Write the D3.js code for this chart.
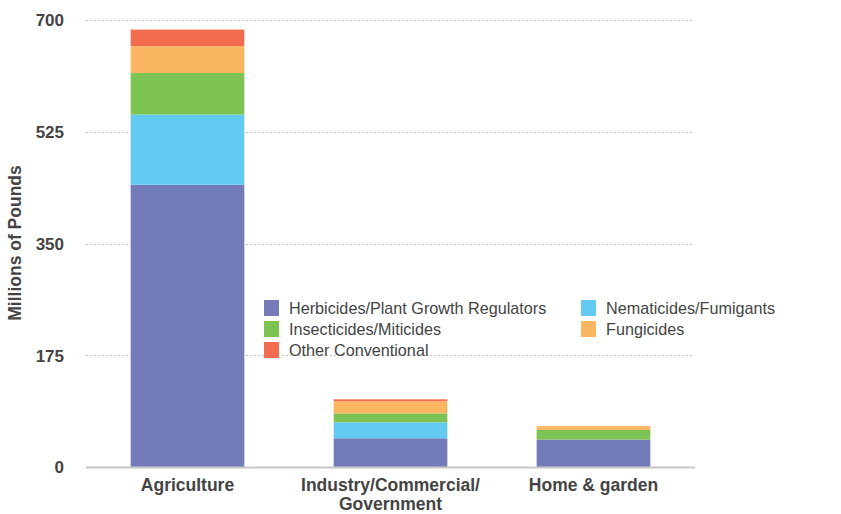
<!DOCTYPE html>
<html>
<head>
<meta charset="utf-8">
<script src="https://cdn.jsdelivr.net/npm/d3@7"></script>
<style>
  body { margin: 0; background: #fff; }
  text { font-family: "Liberation Sans", Arial, sans-serif; }
</style>
</head>
<body>
<svg id="chart" width="841" height="514"></svg>
<script>
// Pesticide use by market sector, millions of pounds
const sectors = ["Agriculture", "Industry/Commercial/Government", "Home & garden"];
const sectorLines = [["Agriculture"], ["Industry/Commercial/", "Government"], ["Home & garden"]];
const seriesNames = ["Herbicides/Plant Growth Regulators", "Nematicides/Fumigants",
                     "Insecticides/Miticides", "Fungicides", "Other Conventional"];
const herbicides   = [442, 45, 43];
const nematicides  = [110, 25, 0];
const insecticides = [65, 14, 15];
const fungicides   = [42, 19, 6];
const other        = [26, 3, 0];
const yTicks = [0, 175, 350, 525, 700];
const colors = ["#737cb9", "#63cbf2", "#7dc353", "#fbb662", "#f26d50"];

const seriesValues = [herbicides, nematicides, insecticides, fungicides, other];
const rows = sectors.map((s, i) => {
  const r = { sector: s };
  seriesNames.forEach((n, k) => r[n] = seriesValues[k][i]);
  return r;
});

const svg = d3.select("#chart");
const plotLeft = 86, plotRight = 692, plotTop = 20, plotBottom = 467;

const x = d3.scaleBand().domain(sectors).range([plotLeft, plotRight + 3]).paddingInner(0.44).paddingOuter(0.22);
const y = d3.scaleLinear().domain([0, 700]).range([plotBottom, plotTop]);
const color = d3.scaleOrdinal().domain(seriesNames).range(colors);

// gridlines
svg.append("g").selectAll("line").data(yTicks.filter(d => d > 0)).join("line")
  .attr("x1", plotLeft).attr("x2", plotRight)
  .attr("y1", d => Math.round(y(d)) + 0.5).attr("y2", d => Math.round(y(d)) + 0.5)
  .attr("stroke", "#c8c8c8").attr("stroke-width", 1).attr("stroke-dasharray", "2,2");

// stacked bars
const stack = d3.stack().keys(seriesNames)(rows);
svg.append("g").selectAll("g").data(stack).join("g")
  .attr("fill", d => color(d.key))
  .selectAll("rect").data(d => d).join("rect")
  .attr("x", d => x(d.data.sector))
  .attr("width", x.bandwidth())
  .attr("y", d => y(d[1]))
  .attr("height", d => y(d[0]) - y(d[1]));

// baseline
svg.append("line").attr("x1", plotLeft).attr("x2", plotRight + 3)
  .attr("y1", plotBottom + 0.5).attr("y2", plotBottom + 0.5)
  .attr("stroke", "#c8c8c8").attr("stroke-width", 2);

// y axis labels
const yAxis = d3.axisLeft(y).tickValues(yTicks).tickSize(0).tickPadding(0);
const ya = svg.append("g").attr("transform", `translate(${plotLeft - 22},0)`).call(yAxis);
ya.select(".domain").remove();
ya.selectAll("text").attr("font-size", 17).attr("font-weight", "bold")
  .attr("fill", "#444").attr("dy", "0.35em")
  .style("font-family", "'Liberation Sans', Arial, sans-serif");

svg.append("text")
  .attr("transform", `translate(21,243) rotate(-90)`)
  .attr("text-anchor", "middle").attr("font-size", 17.5).attr("font-weight", "bold")
  .attr("fill", "#444").text("Millions of Pounds");

// x axis labels
sectors.forEach((s, i) => {
  const t = svg.append("text")
    .attr("x", x(s) + x.bandwidth() / 2).attr("y", 491)
    .attr("text-anchor", "middle").attr("font-size", 17.5).attr("font-weight", "bold")
    .attr("fill", "#444");
  sectorLines[i].forEach((line, j) => {
    t.append("tspan").attr("x", x(s) + x.bandwidth() / 2).attr("dy", j === 0 ? 0 : 19).text(line);
  });
});

// legend
const legendItems = [
  { name: seriesNames[0], col: 0, row: 0 },
  { name: seriesNames[1], col: 1, row: 0 },
  { name: seriesNames[2], col: 0, row: 1 },
  { name: seriesNames[3], col: 1, row: 1 },
  { name: seriesNames[4], col: 0, row: 2 }
];
const lg = svg.append("g");
const li = lg.selectAll("g").data(legendItems).join("g")
  .attr("transform", d => `translate(${d.col ? 581 : 264},${300 + d.row * 21})`);
li.append("rect").attr("width", 15).attr("height", 16).attr("fill", d => color(d.name));
li.append("text").attr("x", 25).attr("y", 8).attr("dy", "0.35em")
  .attr("font-size", 16.2).attr("fill", "#444").text(d => d.name);
</script>
</body>
</html>
